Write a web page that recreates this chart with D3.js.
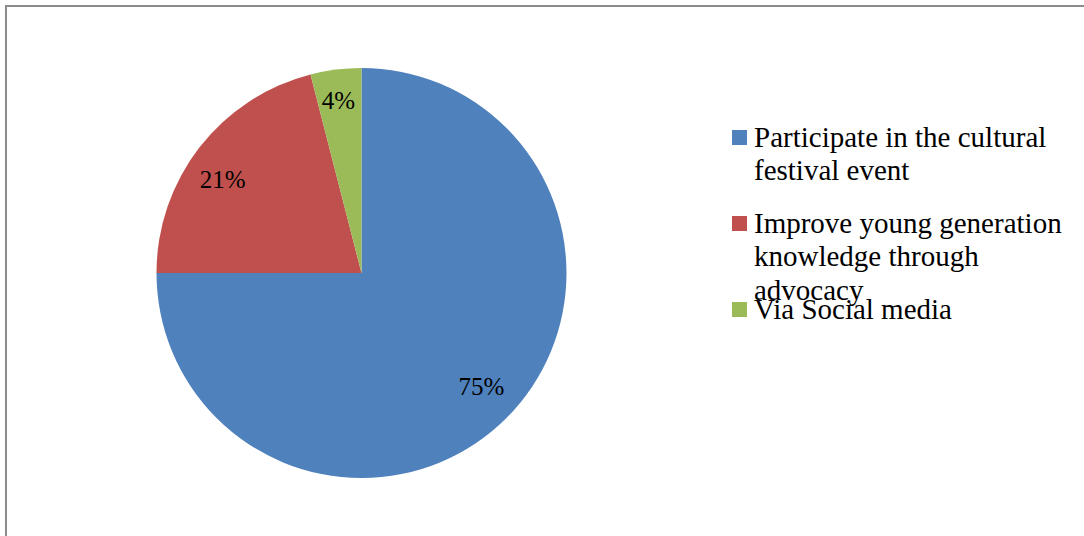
<!DOCTYPE html>
<html>
<head>
<meta charset="utf-8">
<script src="https://cdn.jsdelivr.net/npm/d3@7"></script>
<style>
  body { margin: 0; background: #fff; }
</style>
</head>
<body>
<div id="chart"></div>
<script>
// Pie data
var categories = [
  "Participate in the cultural festival event",
  "Improve young generation knowledge through advocacy",
  "Via Social media"
];
var values = [75, 21, 4];
var labels = ["75%", "21%", "4%"];
var colors = ["#4F81BD", "#C0504D", "#9BBB59"];

var svgWidth = 1084;
var svgHeight = 536;

var svg = d3.select("#chart")
  .append("svg")
  .attr("width", svgWidth)
  .attr("height", svgHeight);

svg.append("rect")
  .attr("width", svgWidth)
  .attr("height", svgHeight)
  .attr("fill", "#fff");

// chart frame (runs off the right and bottom)
svg.append("rect")
  .attr("x", 6)
  .attr("y", 6)
  .attr("width", 1200)
  .attr("height", 700)
  .attr("fill", "none")
  .attr("stroke", "#8c8c8c")
  .attr("stroke-width", 2);

var cx = 361.5, cy = 273, radius = 205;

var pieGroup = svg.append("g")
  .attr("transform", `translate(${cx}, ${cy})`);

var pie = d3.pie().sort(null).value(d => d);
var arcs = pie(values);

var arc = d3.arc().innerRadius(0).outerRadius(radius);
var labelArc = d3.arc().innerRadius(radius * 0.82).outerRadius(radius * 0.82);

// small nudges so labels sit where Excel's best-fit put them
var nudge = [[1, -6], [-6, 9], [-2, -6]];

pieGroup.selectAll("path")
  .data(arcs)
  .enter()
  .append("path")
  .attr("d", arc)
  .attr("fill", (d, i) => colors[i]);

pieGroup.selectAll(".lbl")
  .data(arcs)
  .enter()
  .append("text")
  .attr("class", "lbl")
  .attr("transform", (d, i) => {
    var c = labelArc.centroid(d);
    return `translate(${c[0] + nudge[i][0]}, ${c[1] + nudge[i][1]})`;
  })
  .attr("dy", "0.35em")
  .attr("text-anchor", "middle")
  .style("font-family", "'Liberation Serif', 'Times New Roman', serif")
  .style("font-size", "25px")
  .style("fill", "#000")
  .text((d, i) => labels[i]);

// Legend
var legendX = 732, legendY = 130, itemStep = 86, lineH = 33.5, maxW = 325;

var legend = svg.append("g");

categories.forEach(function(c, i) {
  var y = legendY + i * itemStep;
  legend.append("rect")
    .attr("x", legendX)
    .attr("y", y)
    .attr("width", 15)
    .attr("height", 15)
    .attr("fill", colors[i]);

  var t = legend.append("text")
    .attr("x", legendX + 22)
    .attr("y", y + 16.5)
    .style("font-family", "'Liberation Serif', 'Times New Roman', serif")
    .style("font-size", "29px")
    .style("fill", "#000");

  // simple word wrap
  var words = c.split(" ");
  var line = [];
  var tspan = t.append("tspan").attr("x", legendX + 22).attr("dy", 0);
  words.forEach(function(w) {
    line.push(w);
    tspan.text(line.join(" "));
    if (tspan.node().getComputedTextLength() > maxW && line.length > 1) {
      line.pop();
      tspan.text(line.join(" "));
      line = [w];
      tspan = t.append("tspan").attr("x", legendX + 22).attr("dy", lineH).text(w);
    }
  });
});
</script>
</body>
</html>
